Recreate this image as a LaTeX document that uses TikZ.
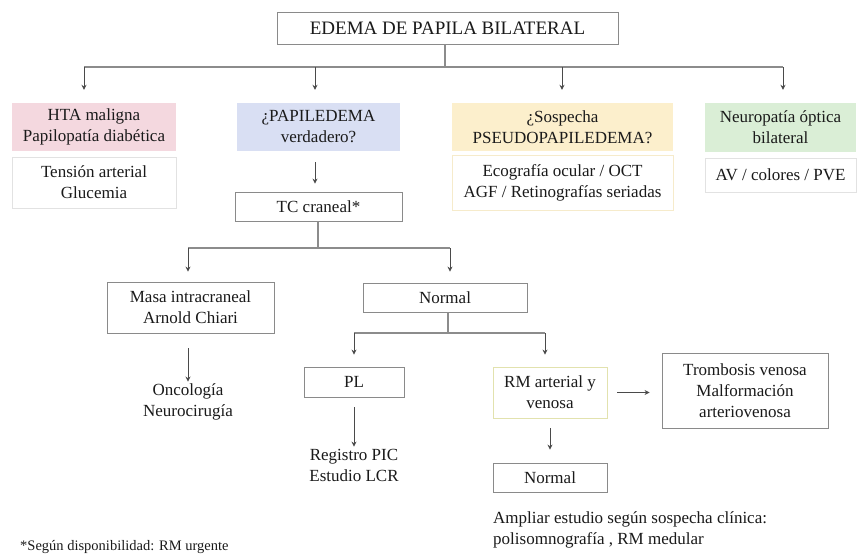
\documentclass[tikz,border=0pt]{standalone}
\usepackage{fontspec}
\setmainfont{Liberation Serif}
\usetikzlibrary{arrows.meta}
\definecolor{pinkf}{HTML}{F4D8DF}
\definecolor{bluef}{HTML}{D9DFF3}
\definecolor{yellowf}{HTML}{FCEFCC}
\definecolor{greenf}{HTML}{DAEED6}
\definecolor{boxc}{HTML}{8A8A8A}
\definecolor{faintc}{HTML}{E2E2E2}
\definecolor{faintyc}{HTML}{F6EBCB}
\definecolor{rmc}{HTML}{E2E2AE}
\definecolor{linec}{HTML}{4A4A4A}
\definecolor{busc}{HTML}{8C8C8C}
\definecolor{textc}{HTML}{1A1A1A}
\begin{document}
\begin{tikzpicture}[x=1pt,y=-1pt,
  base/.style={inner sep=0pt, align=center, text=textc, font=\fontsize{17}{21}\selectfont},
  box/.style={base, draw=boxc, line width=0.8pt},
  fbox/.style={base, draw=none},
  lbox/.style={base, draw=faintc, line width=0.8pt},
  sz/.style 2 args={minimum width=#1pt, minimum height=#2pt},
  plain/.style={base},
  arr/.style={draw=linec, line width=0.9pt, -{Stealth[length=5pt,width=5pt]}},
  bus/.style={draw=busc, line width=1.3pt}]
\useasboundingbox (0,0) rectangle (858,554);
\fill[white] (0,0) rectangle (858,554);

% top
\node[box, sz={341}{32}, font=\fontsize{19}{22}\selectfont] (top) at (447.5,28) {EDEMA DE PAPILA BILATERAL};

% row 1
\node[fbox, fill=pinkf, sz={164}{48}] (hta) at (94,127) {HTA maligna\\Papilopatía diabética};
\node[lbox, sz={164}{51}] (htab) at (94,182.5) {Tensión arterial\\Glucemia};
\node[fbox, fill=bluef, sz={163}{48}] (pap) at (318.5,127) {¿PAPILEDEMA\\verdadero?};
\node[box, sz={167}{29}] (tc) at (318.5,206.5) {TC craneal*};
\node[fbox, fill=yellowf, sz={221}{48}] (pse) at (562.5,127) {¿Sospecha\\PSEUDOPAPILEDEMA?};
\node[base, draw=faintyc, line width=0.8pt, sz={221}{55}] (pseb) at (562.5,182.5) {Ecografía ocular / OCT\\AGF / Retinografías seriadas};
\node[fbox, fill=greenf, sz={151}{49}] (neu) at (780.5,127.5) {Neuropatía óptica\\bilateral};
\node[lbox, sz={151}{34}] (neub) at (780.5,175) {AV / colores / PVE};

% row 2
\node[box, sz={167}{51}] (masa) at (190.5,307.5) {Masa intracraneal\\Arnold Chiari};
\node[box, sz={164}{29}] (nor1) at (445,297.5) {Normal};
\node[plain] (onco) at (188,402) {Oncología\\Neurocirugía};
\node[box, sz={100}{30}] (pl) at (354,382) {PL};
\node[plain] (reg) at (354,465) {Registro PIC\\Estudio LCR};
\node[base, draw=rmc, line width=0.8pt, sz={114}{51}] (rm) at (550,392.5) {RM arterial y\\venosa};
\node[box, sz={166}{75}] (tro) at (745,390.5) {Trombosis venosa\\Malformación\\arteriovenosa};
\node[box, sz={114}{29}] (nor2) at (550,477.5) {Normal};
\node[base, align=left, anchor=west] (amp) at (493,530) {Ampliar estudio según sospecha clínica:\\polisomnografía , RM medular};
\node[base, anchor=west, font=\fontsize{14.5}{17}\selectfont] (foot) at (20,547) {*Según disponibilidad: RM urgente};

% connectors: top level
\coordinate (s0) at (445,67);
\coordinate (b1) at (84,67);
\coordinate (b2) at (315,67);
\coordinate (b3) at (562,67);
\coordinate (b4) at (783,67);
\draw[bus] (top.south -| s0) -- (s0);
\draw[bus] (b1) -- (b4);
\draw[arr, shorten >=13pt] (b1) -- (b1 |- hta.north);
\draw[arr, shorten >=13pt] (b2) -- (b2 |- pap.north);
\draw[arr, shorten >=13pt] (b3) -- (b3 |- pse.north);
\draw[arr, shorten >=13pt] (b4) -- (b4 |- neu.north);

% pap -> tc
\coordinate (c2) at (315,0);
\draw[arr, shorten <=11pt, shorten >=8pt] (pap.south -| c2) -- (tc.north -| c2);

% tc -> masa / normal
\coordinate (t0) at (318,248);
\coordinate (t1) at (188,248);
\coordinate (t2) at (450,248);
\draw[bus] (tc.south -| t0) -- (t0);
\draw[bus] (t1) -- (t2);
\draw[arr, shorten >=10pt] (t1) -- (t1 |- masa.north);
\draw[arr, shorten >=11pt] (t2) -- (t2 |- nor1.north);

% masa -> onco
\coordinate (m0) at (188,0);
\draw[arr, shorten <=15pt, shorten >=2pt] (masa.south -| m0) -- (onco.north -| m0);

% normal -> pl / rm
\coordinate (n0) at (448,333);
\coordinate (n1) at (354,333);
\coordinate (n2) at (545,333);
\draw[bus] (nor1.south -| n0) -- (n0);
\draw[bus] (n1) -- (n2);
\draw[arr, shorten >=12pt] (n1) -- (n1 |- pl.north);
\draw[arr, shorten >=12pt] (n2) -- (n2 |- rm.north);

% pl -> registro
\draw[arr, shorten <=10pt, shorten >=2pt] (pl.south) -- (reg.north);

% rm -> trombosis, rm -> normal
\draw[arr, shorten <=10pt, shorten >=12pt] (rm.east) -- (tro.west |- rm.east);
\draw[arr, shorten <=10pt, shorten >=13pt] (rm.south) -- (nor2.north);
\end{tikzpicture}
\end{document}
